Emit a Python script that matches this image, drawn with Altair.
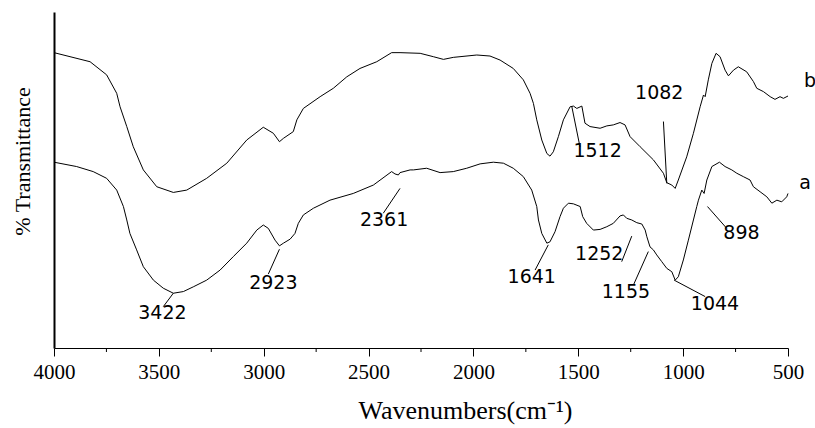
import altair as alt
import pandas as pd

# Curve b (upper) : wavenumber (cm-1) and transmittance (arbitrary %)
b_wn = [4000, 3828, 3749, 3701, 3685, 3653, 3622, 3574, 3510, 3431, 3367, 3272, 3176, 3081, 3002, 2954, 2925, 2906, 2859, 2842,
        2811, 2731, 2668, 2604, 2541, 2461, 2390, 2350, 2254, 2191, 2143, 2096, 1984, 1921, 1873, 1810, 1762, 1730, 1714, 1698,
        1674, 1650, 1635, 1619, 1595, 1571, 1539, 1523, 1507, 1483, 1468, 1444, 1396, 1364, 1333, 1301, 1277, 1253, 1205, 1142,
        1094, 1078, 1054, 1038, 1023, 983, 951, 919, 903, 895, 880, 863, 843, 824, 800, 784, 760, 737, 697, 665,
        649, 617, 585, 562, 538, 522, 500]
b_t = [87.9, 85.2, 81.3, 75.8, 71.8, 65.9, 59.9, 53.0, 48.0, 46.3, 47.0, 50.5, 55.0, 61.9, 65.7, 63.9, 61.4, 62.4, 64.4, 67.9,
       71.3, 74.8, 77.3, 80.7, 83.2, 85.2, 87.9, 87.9, 87.7, 86.7, 85.9, 86.5, 87.2, 86.9, 85.7, 83.2, 79.8, 75.8, 72.8, 67.9,
       61.9, 57.9, 57.1, 58.4, 62.9, 67.9, 71.8, 72.0, 71.3, 72.0, 66.9, 65.9, 65.4, 66.1, 66.4, 67.1, 66.4, 62.9, 59.9, 56.0,
       52.0, 49.2, 48.5, 47.5, 50.0, 56.9, 63.9, 71.8, 75.3, 74.8, 79.8, 84.7, 87.7, 86.7, 82.7, 81.0, 82.7, 83.7, 82.2, 79.3,
       77.3, 76.3, 74.8, 74.0, 74.8, 74.3, 75.0]

# Curve a (lower)
a_wn = [4000, 3892, 3813, 3749, 3701, 3669, 3653, 3638, 3606, 3574, 3526, 3479, 3431, 3383, 3336, 3272, 3208, 3145, 3081, 3033,
        3002, 2978, 2946, 2925, 2906, 2874, 2851, 2835, 2811, 2763, 2684, 2573, 2477, 2390, 2374, 2358, 2350, 2302, 2286, 2223,
        2159, 2096, 2032, 1968, 1905, 1857, 1810, 1762, 1722, 1698, 1690, 1674, 1650, 1635, 1611, 1587, 1571, 1547, 1523, 1491,
        1479, 1460, 1428, 1396, 1364, 1333, 1301, 1285, 1269, 1245, 1221, 1197, 1181, 1173, 1158, 1142, 1126, 1102, 1078, 1054,
        1038, 1023, 999, 975, 951, 935, 927, 911, 900, 887, 863, 827, 800, 768, 744, 713, 681, 665, 633, 601,
        577, 553, 530, 506, 500]
a_t = [55.3, 54.0, 52.5, 50.5, 47.0, 42.1, 38.1, 34.1, 29.2, 24.2, 20.2, 17.8, 16.3, 16.8, 18.2, 20.2, 23.2, 27.2, 31.2, 35.1,
       36.6, 35.6, 32.1, 30.4, 31.2, 32.4, 34.1, 37.1, 39.6, 41.6, 44.0, 46.0, 48.5, 52.5, 51.8, 51.5, 52.2, 53.0, 53.0, 53.5,
       52.2, 52.5, 53.5, 54.8, 55.3, 55.0, 53.5, 51.0, 47.0, 42.1, 38.1, 34.1, 31.2, 31.6, 34.6, 39.1, 41.6, 43.1, 42.9, 42.1,
       39.1, 37.1, 35.1, 35.3, 36.1, 37.1, 39.3, 39.6, 38.6, 38.1, 37.3, 36.9, 35.1, 33.1, 30.1, 29.2, 27.7, 25.7, 23.7, 22.7,
       20.2, 21.2, 26.2, 32.1, 38.1, 42.1, 44.0, 47.0, 46.0, 50.0, 54.0, 55.3, 54.0, 53.0, 52.0, 51.0, 50.0, 48.0, 46.5, 45.0,
       43.1, 44.0, 43.5, 45.0, 46.0]

# Peak labels and curve names
ann_label = ["3422", "2923", "2361", "1641", "1252", "1155", "1044", "898", "1512", "1082", "b", "a"]
ann_x = [3483, 2954, 2426, 1722, 1400, 1273, 848, 722, 1408, 1114, 395, 418]
ann_y = [10.4, 19.3, 38.1, 21.0, 28.0, 16.8, 13.0, 34.1, 58.7, 75.8, 79.5, 49.1]

# Leader lines (peak -> label)
lead_x1 = [3431, 2925, 2350, 1643, 1245, 1166, 1043, 884, 1531, 1094]
lead_y1 = [16.3, 29.4, 47.5, 30.7, 33.3, 28.7, 20.2, 42.1, 71.9, 67.4]
lead_x2 = [3479, 2978, 2430, 1706, 1293, 1237, 895, 792, 1492, 1078]
lead_y2 = [12.3, 22.0, 40.1, 23.2, 25.7, 18.75, 15.3, 35.6, 59.9, 49.0]

major_ticks = [4000, 3500, 3000, 2500, 2000, 1500, 1000, 500]
minor_ticks = [3750, 3250, 2750, 2250, 1750, 1250, 750]

curves = pd.concat([
    pd.DataFrame({"wn": b_wn, "t": b_t, "s": "b"}),
    pd.DataFrame({"wn": a_wn, "t": a_t, "s": "a"}),
])
ann = pd.DataFrame({"label": ann_label, "x": ann_x, "y": ann_y})
leads = pd.DataFrame({"x1": lead_x1, "y1": lead_y1, "x2": lead_x2, "y2": lead_y2})
minor = pd.DataFrame({"m": minor_ticks})

xscale = alt.Scale(domain=[500, 4000], reverse=True, nice=False, zero=False)
yscale = alt.Scale(domain=[0, 100], nice=False, zero=False)

xaxis = alt.Axis(
    values=major_ticks, format="d", title="Wavenumbers(cm⁻¹)", grid=False,
    labelFont="Liberation Serif", labelFontSize=21, labelColor="black",
    labelFlush=False, labelOverlap=False, labelPadding=5,
    tickSize=8, tickColor="black", tickWidth=1,
    domainColor="black", domainWidth=1,
    titleFont="Liberation Serif", titleFontSize=26, titleFontWeight="normal",
    titleColor="black", titleX=411, titleY=70, titleAlign="center",
    titleBaseline="alphabetic",
)
yaxis = alt.Axis(
    title="% Transmittance", labels=False, ticks=False, grid=False,
    domainColor="black", domainWidth=2,
    titleFont="Liberation Serif", titleFontSize=22, titleFontWeight="normal",
    titleColor="black", titleAngle=270, titleX=-32, titleY=149,
    titleAlign="center", titleBaseline="middle",
)

lines = alt.Chart(curves).mark_line(color="black", strokeWidth=1).encode(
    x=alt.X("wn:Q", scale=xscale, axis=xaxis),
    y=alt.Y("t:Q", scale=yscale, axis=yaxis),
    detail="s:N",
    order=alt.Order("rank:Q"),
).transform_window(rank="row_number()", groupby=["s"])

minor_rules = alt.Chart(minor).mark_rule(color="black", strokeWidth=1).encode(
    x=alt.X("m:Q", scale=xscale),
    y=alt.value(336),
    y2=alt.value(340),
)

lead_rules = alt.Chart(leads).mark_rule(color="black", strokeWidth=1).encode(
    x=alt.X("x1:Q", scale=xscale),
    y=alt.Y("y1:Q", scale=yscale),
    x2="x2:Q",
    y2="y2:Q",
)

labels = alt.Chart(ann).mark_text(
    font="DejaVu Sans", fontSize=19, color="black", align="center", baseline="middle"
).encode(
    x=alt.X("x:Q", scale=xscale),
    y=alt.Y("y:Q", scale=yscale),
    text="label:N",
)

chart = alt.layer(lines, minor_rules, lead_rules, labels).properties(
    width=734, height=336,
    autosize=alt.AutoSizeParams(type="none"),
    padding={"left": 54, "top": 12, "right": 27, "bottom": 80},
    background="white",
).configure_view(stroke=None)

chart.save("out.html", embed_options={"renderer": "svg", "actions": False})
